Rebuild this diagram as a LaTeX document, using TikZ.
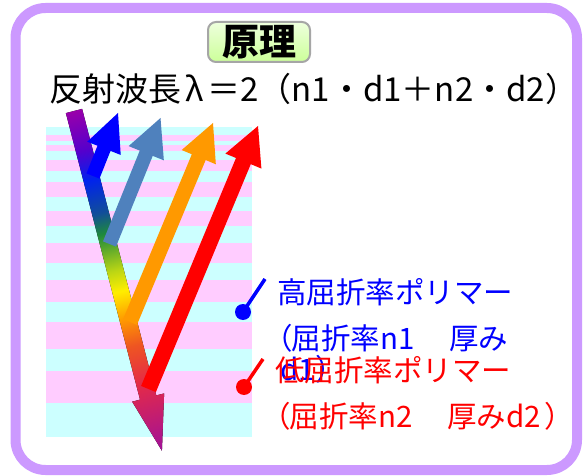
\documentclass[tikz,border=0pt]{standalone}
\usepackage{fontspec}
\newfontfamily\jp{Noto Sans CJK JP}
\newfontfamily\jpp[RawFeature=+palt]{Noto Sans CJK JP}
\usetikzlibrary{calc}

\definecolor{framepurple}{HTML}{CC99FF}
\definecolor{layercyan}{HTML}{CCFFFF}
\definecolor{layerpink}{HTML}{FFCCFF}
\definecolor{steelray}{HTML}{4F81BD}
\definecolor{orangeray}{HTML}{FF9900}
\definecolor{redray}{HTML}{FF0000}
\definecolor{blueray}{HTML}{0000FF}
\definecolor{headgreen}{HTML}{CCFF99}
\definecolor{headgreenlight}{HTML}{EEFFDD}

% colours along the incident white-light ray
\definecolor{rb0}{HTML}{9900AA}
\definecolor{rb1}{HTML}{5500CC}
\definecolor{rb2}{HTML}{0022EE}
\definecolor{rb3}{HTML}{114E99}
\definecolor{rb4}{HTML}{1E8A3C}
\definecolor{rb5}{HTML}{BBD614}
\definecolor{rb6}{HTML}{FFEE00}
\definecolor{rb7}{HTML}{FF9900}
\definecolor{rb8}{HTML}{EE5522}
\definecolor{rb9}{HTML}{E42A48}
\definecolor{rb10}{HTML}{A0109A}

\pgfdeclarehorizontalshading{rainbowray}{100bp}{color(0bp)=(rb0); color(25bp)=(rb0);
  color(30.75bp)=(rb1); color(35bp)=(rb2); color(40bp)=(rb3); color(43bp)=(rb4);
  color(48.5bp)=(rb5); color(51.5bp)=(rb6); color(55.5bp)=(rb7); color(59.5bp)=(rb8);
  color(65bp)=(rb9); color(75bp)=(rb10); color(100bp)=(rb10)}

% block arrow: #1 colour, #2 tail, #3 tip, #4 shaft half width, #5 head length, #6 head half width
\newcommand\blockray[6]{%
  \coordinate (hb) at ($(#3)!#5!(#2)$);
  \fill[#1] ($(#2)!#4!90:(#3)$) -- ($(hb)!#4!90:(#3)$) -- ($(hb)!#6!90:(#3)$) -- (#3)
    -- ($(hb)!#6!-90:(#3)$) -- ($(hb)!#4!-90:(#3)$) -- ($(#2)!#4!-90:(#3)$) -- cycle;
}

\begin{document}
\begin{tikzpicture}[x=1pt,y=-1pt,
  legendtext/.style={font=\jp\fontsize{29.5}{29.5}\selectfont, inner sep=0pt, anchor=base west},
  leaderdot/.style={circle, inner sep=0pt, minimum size=16pt},
  leader/.style={line width=3.5pt},
  titlebox/.style={draw=gray!70, line width=2pt, rounded corners=8pt,
    top color=headgreenlight, bottom color=headgreen, minimum width=102pt, minimum height=40pt,
    inner sep=0pt, font=\jp\bfseries\fontsize{37}{37}\selectfont}]
\useasboundingbox (0,0) rectangle (584,476);
\fill[white] (0,0) rectangle (584,476);

% outer frame
\draw[framepurple, line width=10pt, rounded corners=30pt] (15.5,8) rectangle (577,470);

% heading and formula
\node[titlebox] (heading) at (259,42) {原理};
\node[font=\jp\fontsize{33}{33}\selectfont, inner sep=0pt, anchor=base west] (formula)
  at (49,102) {反射波長\hspace{4pt}λ\hspace{4pt}＝2（n1・d1＋n2・d2）};

% alternating polymer layers
\fill[layercyan] (46,127) rectangle (252,437);
\foreach \a/\b in {135/141,145/151,160/171,182/197,211/226,243/263,280/302,322/349,371/403}
  \fill[layerpink] (46,\a) rectangle (252,\b);

% incident ray
\begin{scope}[transform canvas={shift={(74,111)},rotate=-75.49}]
  \fill[shading=rainbowray] (0,-8.4) -- (296,-8.4) -- (296,-16.5) -- (351,0)
    -- (296,16.5) -- (296,8.4) -- (0,8.4) -- cycle;
\end{scope}

% reflected rays
\coordinate (blueTail) at (93,176);    \coordinate (blueTip) at (118,113);
\coordinate (steelTail) at (109.5,244); \coordinate (steelTip) at (160.5,118);
\coordinate (orangeTail) at (130,322); \coordinate (orangeTip) at (213,123);
\coordinate (redTail) at (148.5,389);  \coordinate (redTip) at (258,126);
\blockray{blueray}{blueTail}{blueTip}{7pt}{38pt}{18pt}
\blockray{steelray}{steelTail}{steelTip}{7pt}{38pt}{19pt}
\blockray{orangeray}{orangeTail}{orangeTip}{7.5pt}{37pt}{18.5pt}
\blockray{redray}{redTail}{redTip}{8pt}{38pt}{19.5pt}

% legend
\node[leaderdot, fill=blueray] (hiDot) at (243,312) {};
\coordinate (hiEnd) at (265,279);
\draw[leader, blueray] (hiDot.center) -- (hiEnd);
\node[legendtext, text=blueray] (hiA) at (277,303) {高屈折率ポリマー};
\node[legendtext, text=blueray] (hiB) at (277,349) {{\jpp （}屈折率n1\hspace{5pt}　厚み};
\node[legendtext, text=blueray] (hiC) at (280,380) {d1\hspace{1pt}）};

\node[leaderdot, fill=redray] (loDot) at (244,387) {};
\coordinate (loEnd) at (263,359);
\draw[leader, redray] (loDot.center) -- (loEnd);
\node[legendtext, text=redray] (loA) at (275,381) {低屈折率ポリマー};
\node[legendtext, text=redray] (loB) at (275,427) {{\jpp （}屈折率n2\hspace{5pt}　厚みd2\hspace{4pt}）};
\end{tikzpicture}
\end{document}
